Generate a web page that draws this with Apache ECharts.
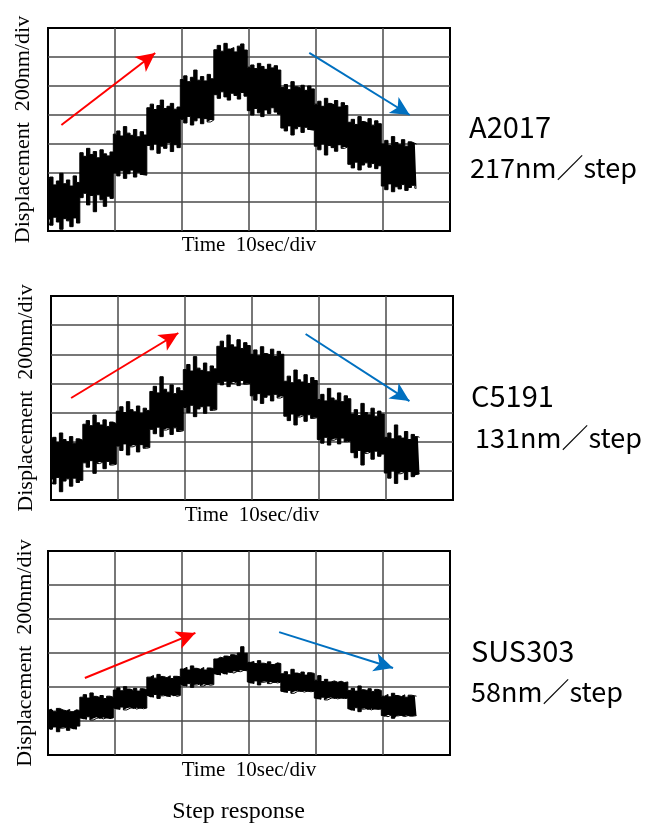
<!DOCTYPE html>
<html>
<head>
<meta charset="utf-8">
<script src="https://cdn.jsdelivr.net/npm/echarts@6/dist/echarts.min.js"></script>
<style>
html,body{margin:0;padding:0;background:#fff;}
#chart{width:648px;height:823px;}
</style>
</head>
<body>
<div id="chart"></div>
<script>
// Sample times (s), 0.5 s per sample, 60 s across 6 divisions of 10 s
const sampleTimes = Array.from({length: 121}, (_, i) => String(i * 0.5));

const panelNames = ['A2017', 'C5191', 'SUS303'];
const panelSteps = ['217nm／step', '131nm／step', '58nm／step'];
const yMax = [1400, 1400, 1200];
const yAxisTitle = 'Displacement  200nm/div';
const xAxisTitle = 'Time  10sec/div';
const figureTitle = 'Step response';

// Noise envelope (upper / lower, nm), 10 samples per 5 s step
const p1Hi = [
330,372,318,345,398,326,352,310,380,335,
540,515,570,528,548,505,560,532,518,545,
668,690,655,720,675,660,700,650,685,662,
850,875,838,865,903,845,860,880,840,855,
1045,1070,1030,1060,1110,1040,1065,1035,1080,1050,
1250,1280,1240,1294,1255,1265,1235,1275,1290,1248,
1130,1145,1120,1156,1135,1115,1150,1125,1140,1110,
990,1010,975,1030,995,985,1005,970,1000,980,
875,895,860,915,880,870,900,855,885,865,
750,770,735,789,755,745,775,730,760,740,
600,625,590,651,610,595,630,585,615,605,600];
const p1Lo = [
80,40,95,62,12,85,70,30,90,55,
230,260,180,245,133,250,215,170,240,225,
400,380,415,363,395,420,372,405,390,385,
590,560,600,536,585,570,610,548,595,575,
770,745,790,731,760,780,740,775,752,765,
940,915,960,925,903,950,935,910,955,930,
830,800,845,815,789,835,810,850,820,805,
710,690,725,662,705,720,680,715,700,695,
585,560,600,524,590,575,550,595,570,580,
460,435,475,421,455,470,440,465,430,450,
310,285,325,271,305,290,320,280,300,315,295];

const p2Hi = [
405,430,395,460,415,400,435,390,420,410,
520,545,510,583,530,515,550,505,535,525,
610,640,600,675,620,605,645,595,630,615,
745,780,735,846,760,740,790,730,770,750,
895,930,885,984,905,890,940,880,920,900,
1055,1090,1045,1132,1065,1050,1100,1040,1080,1060,
1000,1030,990,1052,1005,995,1035,985,1020,1000,
815,850,805,892,825,810,860,800,840,820,
690,725,680,766,700,685,735,675,715,695,
590,620,580,663,600,585,630,575,610,590,
430,460,420,515,440,425,470,415,450,435,430];
const p2Lo = [
140,110,155,57,130,145,95,150,120,135,
255,225,270,183,250,260,215,265,240,245,
370,340,385,309,365,375,330,380,355,360,
485,455,500,435,480,490,450,495,470,475,
635,600,650,572,625,640,595,645,615,620,
805,790,815,778,800,810,785,820,795,800,
715,685,730,663,705,720,680,725,700,710,
575,545,590,515,570,580,540,585,560,565,
415,390,430,377,410,420,385,425,400,405,
325,290,340,240,320,330,280,335,300,315,
185,150,200,114,180,190,140,195,160,175,180];

const p3Hi = [
262,270,258,274,265,260,268,255,266,262,
340,355,335,365,345,338,350,332,346,340,
382,395,378,402,388,380,392,376,390,385,
458,468,452,474,462,455,466,450,463,460,
506,516,500,524,510,504,515,500,512,508,
565,575,570,582,578,590,585,600,637,598,
545,550,538,555,540,535,548,532,542,538,
478,490,472,504,482,476,488,470,484,480,
440,467,432,445,430,436,428,434,426,430,
380,392,376,406,384,378,390,374,386,380,
346,356,342,363,350,344,354,340,352,348,346];
const p3Lo = [
160,150,165,137,158,162,145,160,152,170,
218,210,225,206,215,222,212,220,214,218,
276,268,282,265,275,280,270,278,272,276,
350,340,356,333,348,352,342,355,345,350,
414,405,420,398,412,418,406,416,410,414,
478,470,485,475,488,482,492,490,498,495,
430,420,436,412,428,432,420,430,424,428,
375,368,380,363,374,378,370,376,372,375,
335,328,340,324,334,338,330,336,332,334,
272,262,278,255,270,275,265,272,268,270,
232,225,236,216,230,234,226,232,228,230,232];

// Arrow annotations: [startIndex, startNm, endIndex, endNm]
const redArrows  = [[4, 731, 32, 1228], [6, 700, 38, 1146], [11, 453, 44, 718]];
const blueArrows = [[78, 1228, 108, 800], [76, 1139, 107, 679], [69, 723, 103, 512]];

const his = [p1Hi, p2Hi, p3Hi];
const los = [p1Lo, p2Lo, p3Lo];

const gridPos = [
  {left: 48, top: 28, width: 402, height: 203},
  {left: 51, top: 296, width: 402, height: 204},
  {left: 48, top: 551, width: 402, height: 204}
];
const xNameGap = [4, 5, 5];
const yNameGap = [14, 14, 12];

const serif = 'Liberation Serif';
const option = {
  animation: false,
  backgroundColor: '#fff',
  grid: gridPos.map(g => Object.assign({show: true, borderColor: '#000', borderWidth: 2, backgroundColor: 'transparent', containLabel: false}, g)),
  xAxis: gridPos.map((g, i) => ({
    type: 'category', gridIndex: i, data: sampleTimes, boundaryGap: false,
    axisLine: {show: false}, axisTick: {show: false}, axisLabel: {show: false},
    splitLine: {show: true, interval: 19, showMinLine: false, showMaxLine: false, lineStyle: {color: '#4a4a4a', width: 1.5}},
    name: xAxisTitle, nameLocation: 'middle', nameGap: xNameGap[i],
    nameTextStyle: {fontFamily: serif, fontSize: 21, color: '#000', verticalAlign: 'top'}
  })),
  yAxis: gridPos.map((g, i) => ({
    type: 'value', gridIndex: i, min: 0, max: yMax[i], interval: 200,
    axisLine: {show: false}, axisTick: {show: false}, axisLabel: {show: false},
    splitLine: {show: true, showMinLine: false, showMaxLine: false, lineStyle: {color: '#4a4a4a', width: 1.5}},
    name: yAxisTitle, nameLocation: 'middle', nameGap: yNameGap[i],
    nameTextStyle: {fontFamily: serif, fontSize: 22, color: '#000'}
  })),
  series: [],
  graphic: []
};

for (let i = 0; i < 3; i++) {
  const r = redArrows[i], b = blueArrows[i];
  option.series.push({
    type: 'line', xAxisIndex: i, yAxisIndex: i, stack: 'p' + i, step: 'middle',
    data: los[i], symbol: 'none', silent: true, z: 2,
    lineStyle: {color: '#000', width: 1},
    markLine: {
      silent: true, symbol: ['none', 'arrow'], symbolSize: [14, 19],
      label: {show: false}, z: 5,
      lineStyle: {type: 'solid', width: 2},
      data: [
        [{coord: [r[0], r[1]], lineStyle: {color: '#ff0000'}, itemStyle: {color: '#ff0000'}}, {coord: [r[2], r[3]]}],
        [{coord: [b[0], b[1]], lineStyle: {color: '#0070c0'}, itemStyle: {color: '#0070c0'}}, {coord: [b[2], b[3]]}]
      ]
    }
  });
  option.series.push({
    type: 'line', xAxisIndex: i, yAxisIndex: i, stack: 'p' + i, step: 'middle',
    data: his[i].map((h, k) => h - los[i][k]), symbol: 'none', silent: true, z: 2,
    lineStyle: {color: '#000', width: 1},
    areaStyle: {color: '#000', opacity: 1}
  });
}

const labelY = [[127, 167.5], [396, 437.5], [650.5, 691.7]];
const labelX = [[469, 470], [471, 475], [471, 471]];
for (let i = 0; i < 3; i++) {
  option.graphic.push({type: 'text', x: labelX[i][0], y: labelY[i][0],
    style: {text: panelNames[i], fontSize: 29, fontFamily: 'Noto Sans CJK JP', fill: '#000', verticalAlign: 'middle'}});
  option.graphic.push({type: 'text', x: labelX[i][1], y: labelY[i][1],
    style: {text: panelSteps[i], fontSize: 27, fontFamily: 'Noto Sans CJK JP', fill: '#000', verticalAlign: 'middle'}});
}
option.graphic.push({type: 'text', x: 238.5, y: 811.5,
  style: {text: figureTitle, fontSize: 24, fontFamily: serif, fill: '#000', align: 'center', verticalAlign: 'middle'}});

const chart = echarts.init(document.getElementById('chart'), null, {renderer: 'canvas'});
chart.setOption(option);
</script>
</body>
</html>
